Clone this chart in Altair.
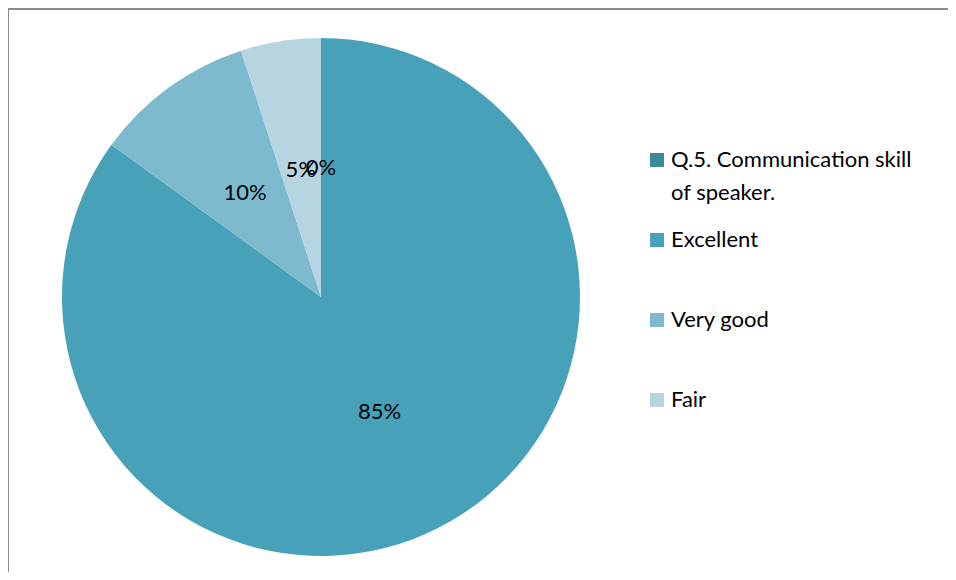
import altair as alt
import pandas as pd

categories = ["Q.5. Communication skill of speaker.", "Excellent", "Very good", "Fair"]
values = [0, 85, 10, 5]
labels = ["0%", "85%", "10%", "5%"]
colors = ["#3A8A9C", "#47A2B9", "#7EBACE", "#B6D5E0"]

df = pd.DataFrame({"category": categories, "value": values, "label": labels, "order": list(range(len(categories)))})

W, H = 940, 564
CX, CY = 313, 289
FONT = "Lato"

label_expr = (
    "datum.label == 'Q.5. Communication skill of speaker.' "
    "? ['Q.5. Communication skill', 'of speaker.'] : [datum.label, ' ']"
)

base = alt.Chart(df).encode(
    theta=alt.Theta("value:Q", stack=True),
    order=alt.Order("order:Q"),
)

pie = base.mark_arc(outerRadius=259).encode(
    x=alt.value(CX),
    y=alt.value(CY),
    color=alt.Color(
        "category:N",
        sort=categories,
        scale=alt.Scale(domain=categories, range=colors),
        legend=alt.Legend(
            title=None,
            orient="none",
            legendX=638,
            legendY=142,
            symbolType="square",
            symbolSize=196,
            symbolStrokeWidth=0,
            labelFont=FONT,
            labelFontSize=22,
            labelColor="black",
            labelExpr=label_expr,
            labelLimit=400,
            labelOffset=3,
            clipHeight=20,
            rowPadding=25,
        ),
    ),
)

text = base.mark_text(radius=129, font=FONT, fontSize=22, color="black").encode(
    x=alt.value(CX),
    y=alt.value(CY),
    text="label:N",
)

frame = alt.Chart(alt.Data(values=[{"a": 1}]))
top_rule = frame.mark_rule(color="#8c8c8c", strokeWidth=2).encode(
    x=alt.value(0), x2=alt.value(W + 20), y=alt.value(1)
)
left_rule = frame.mark_rule(color="#8c8c8c", strokeWidth=2).encode(
    x=alt.value(0), y=alt.value(0), y2=alt.value(H + 20)
)

chart = (
    alt.layer(pie, text, top_rule, left_rule)
    .properties(width=W, height=H, autosize="none", padding=0)
    .configure_view(stroke=None)
    .configure(style={"guide-label": {"lineHeight": 33}})
)

chart.save("out.html", embed_options={"renderer": "svg", "actions": False})
